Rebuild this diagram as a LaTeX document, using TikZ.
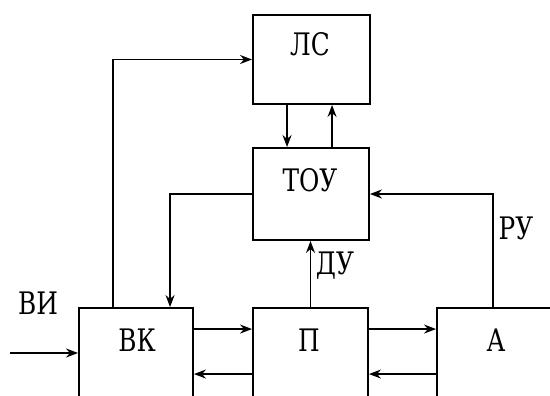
\documentclass[tikz,border=0pt]{standalone}
\usepackage{fontspec}
\usepackage{graphicx}
\setmainfont{DejaVu Serif}
\usetikzlibrary{arrows.meta,calc}
\newcommand{\narrowtxt}[1]{\scalebox{0.8}[1]{#1}}
\begin{document}
\begin{tikzpicture}[x=1pt,y=-1pt,
  box/.style={draw, line width=1.9pt, rectangle, inner sep=0pt},
  lbl/.style={font=\fontsize{31}{37}\selectfont, inner sep=0pt},
  arr/.style={line width=1.6pt, -{Stealth[length=12pt,width=9pt]}}]
\useasboundingbox (0,0) rectangle (550,396);
\clip (0,0) rectangle (550,396);
% boxes
\node[box, minimum width=117pt, minimum height=89pt] (ls) at (311.5,59.5) {};
\node[box, minimum width=116pt, minimum height=92pt] (tou) at (311,194) {};
\node[box, minimum width=114pt, minimum height=122pt] (vk) at (136,369) {};
\node[box, minimum width=115pt, minimum height=122pt] (p) at (310.5,369) {};
\node[box, minimum width=163pt, minimum height=122pt] (a) at (518.5,369) {};
% labels
\node[lbl] (tls) at (310,44) {\narrowtxt{ЛС}};
\node[lbl] (ttou) at (310,180) {\narrowtxt{ТОУ}};
\node[lbl] (tvk) at (137,340) {\narrowtxt{ВК}};
\node[lbl] (tp) at (309,340) {\narrowtxt{П}};
\node[lbl] (ta) at (496,340) {\narrowtxt{А}};
\node[lbl] (tvi) at (38,303) {\narrowtxt{ВИ}};
\node[lbl] (tdu) at (335,266) {\narrowtxt{ДУ}};
\node[lbl] (tru) at (516,228) {\narrowtxt{РУ}};
% connectors
\coordinate (in) at (10,353);
\draw[arr] (in) -- (in -| vk.west);
\draw[arr] ([xshift=35pt]vk.north west) |- (ls.west);
\draw[arr] ([xshift=35pt]ls.south west) -- ([xshift=35pt]tou.north west);
\draw[arr] ([xshift=80pt]tou.north west) -- ([xshift=80pt]ls.south west);
\draw[arr] (tou.west) -| ([xshift=92pt]vk.north west);
\draw[arr] ([xshift=57pt]a.north west) |- (tou.east);
\draw[arr] (p.north) -- (p.north |- tou.south);
\draw[arr] ([yshift=-22pt]vk.north east) -- ([yshift=-22pt]vk.north east -| p.west);
\draw[arr] ([yshift=-67pt]p.north west) -- ([yshift=-67pt]p.north west -| vk.east);
\draw[arr] ([yshift=-22pt]p.north east) -- ([yshift=-22pt]p.north east -| a.west);
\draw[arr] ([yshift=-67pt]a.north west) -- ([yshift=-67pt]a.north west -| p.east);
\end{tikzpicture}
\end{document}
